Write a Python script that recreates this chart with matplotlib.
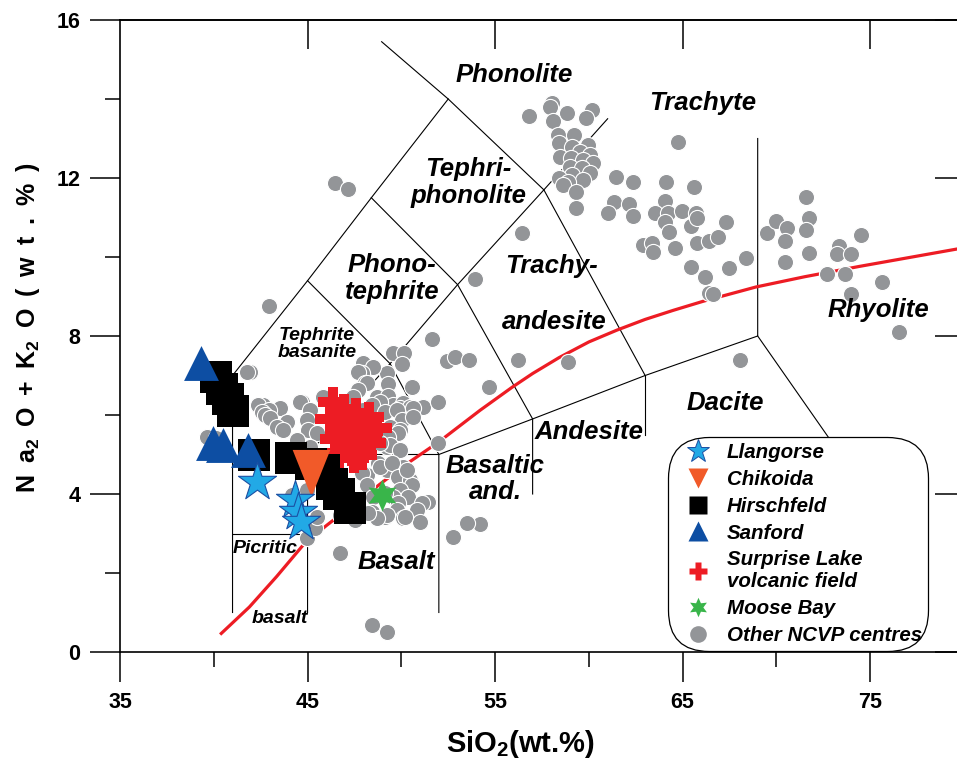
import matplotlib
matplotlib.use('Agg')
from matplotlib import pyplot as plt
from matplotlib.lines import Line2D
from matplotlib.font_manager import FontProperties

plt.rcParams['font.family'] = ['Liberation Sans', 'DejaVu Sans']
plt.rcParams['font.weight'] = 'bold'
plt.rcParams['mathtext.fontset'] = 'custom'
plt.rcParams['mathtext.rm'] = 'Liberation Sans:bold'
plt.rcParams['mathtext.bf'] = 'Liberation Sans:bold'
plt.rcParams['mathtext.it'] = 'Liberation Sans:bold:italic'
plt.rcParams['mathtext.default'] = 'bf'

# ---- data (SiO2 wt.%, Na2O+K2O wt.%) ----
other_sio2 = [
    # trachyte cluster
    56.79, 58.02, 57.91, 58.81, 58.07, 60.15, 59.83, 58.34, 59.19, 58.39, 59.08, 59.93, 59.51, 60.04,
    58.44, 59.03, 59.67, 60.20, 58.97, 59.61, 60.04, 59.08, 58.39, 59.67, 58.87, 58.60, 59.29, 59.29,
    # trachyte / trachydacite
    56.42, 64.73, 61.43, 62.33, 64.09, 65.63, 61.32, 62.12, 61.00, 62.33, 64.04, 63.50, 64.20, 64.99,
    65.69, 64.04, 64.25, 65.42, 65.79, 67.29, 62.86, 63.34, 63.40, 64.57, 65.74, 66.43, 66.91, 65.42,
    66.17, 67.45, 68.40, 66.43, 66.60,
    # rhyolite
    69.47, 70.00, 70.54, 70.48, 70.48, 71.60, 71.71, 71.60, 71.76, 73.31, 73.25, 74.00, 74.53, 72.67,
    73.68, 75.65, 74.00, 76.56, 68.08,
    # scattered
    46.45, 47.15, 42.94, 53.91, 51.62, 52.42, 52.85, 53.59, 56.20, 58.87, 54.66, 54.18, 53.49, 52.74,
    46.72, 48.43, 49.22,
    # basanite / basalt cluster
    49.54, 50.13, 50.02, 49.22, 47.95, 48.48, 47.89, 47.68, 48.05, 48.16, 47.68, 49.28, 50.56, 48.69,
    49.28, 47.41, 49.54, 50.08, 48.85, 48.43, 51.14, 51.94, 49.92, 50.45, 49.12, 49.76, 50.61, 50.02,
    50.61, 47.95, 49.38, 49.92, 49.54, 49.81, 49.28, 49.22, 49.38, 48.85, 49.92, 51.94, 50.08, 49.22,
    48.16, 47.89, 48.75, 48.85, 49.49, 49.81, 50.45, 50.56, 48.16, 49.92, 50.34, 49.54, 49.12, 48.48,
    51.41, 51.09, 49.81, 50.82, 49.76, 50.08, 49.12, 49.22, 48.43, 48.69, 48.21, 47.52, 46.72, 46.83,
    50.98, 50.29, 50.18,
    # left cluster
    44.70, 42.62, 43.52, 41.93, 41.77, 45.82, 44.59, 42.35, 42.94, 42.56, 42.72, 42.99, 45.12, 44.96,
    43.90, 43.36, 43.68, 45.02, 46.29, 45.50, 45.12, 44.43, 39.64, 40.10, 44.96, 45.39, 45.50, 44.16,
    44.96,
]
other_alk = [
    13.57, 13.90, 13.80, 13.65, 13.44, 13.72, 13.52, 13.09, 13.09, 12.89, 12.78, 12.84, 12.66, 12.58,
    12.53, 12.51, 12.46, 12.38, 12.28, 12.25, 12.13, 12.08, 12.00, 11.95, 11.90, 11.82, 11.65, 11.24,
    10.61, 12.91, 12.03, 11.90, 11.90, 11.77, 11.39, 11.34, 11.11, 11.04, 11.42, 11.11, 11.11, 11.16,
    11.11, 10.89, 10.63, 10.78, 10.99, 10.89, 10.30, 10.35, 10.13, 10.23, 10.35, 10.41, 10.51, 9.75,
    9.49, 9.72, 9.97, 9.09, 9.06,
    10.61, 10.91, 10.73, 10.41, 9.87, 11.52, 10.99, 10.68, 10.10, 10.28, 10.08, 10.08, 10.56, 9.57,
    9.57, 9.37, 9.06, 8.10, 7.39,
    11.87, 11.72, 8.76, 9.44, 7.92, 7.37, 7.47, 7.39, 7.39, 7.34, 6.71, 3.24, 3.27, 2.91,
    2.51, 0.68, 0.51,
    7.57, 7.57, 7.29, 7.06, 7.32, 7.22, 7.06, 7.09, 6.81, 6.81, 6.63, 6.78, 6.71, 6.46,
    6.48, 6.46, 6.25, 6.30, 6.33, 6.25, 6.20, 6.33, 6.18, 6.20, 6.08, 6.13, 6.18, 5.87,
    5.95, 6.13, 5.70, 5.62, 5.37, 5.54, 5.44, 5.19, 5.24, 5.29, 5.11, 5.29, 4.68, 4.61,
    4.48, 4.53, 4.78, 4.68, 4.78, 4.43, 4.35, 4.23, 4.23, 4.10, 3.92, 3.92, 4.03, 3.92,
    3.80, 3.77, 3.77, 3.59, 3.59, 3.39, 3.42, 3.47, 3.54, 3.39, 3.52, 3.34, 3.47, 3.59,
    3.29, 4.61, 3.42,
    6.33, 6.25, 6.18, 7.09, 7.09, 6.46, 6.33, 6.25, 6.13, 6.08, 6.00, 5.92, 6.13, 5.87,
    5.82, 5.70, 5.62, 5.62, 5.75, 5.54, 5.19, 5.37, 5.44, 5.42, 2.89, 3.14, 3.42, 3.97,
    4.10,
]

surprise_sio2 = [46.35, 46.95, 47.6, 48.25, 46.2, 46.9, 47.55, 48.7, 48.2, 46.45, 47.1, 47.8, 46.7, 47.35, 47.9, 47.5, 48.4]
surprise_alk = [6.33, 6.15, 6.05, 5.95, 5.9, 5.85, 5.75, 5.67, 5.6, 5.4, 5.45, 5.35, 5.05, 5.1, 5.0, 4.9, 5.3]

hirsch_sio2 = [40.1, 40.45, 40.75, 41.05, 42.15, 44.1, 45.2, 45.9, 46.3, 46.7, 47.25]
hirsch_alk = [6.95, 6.65, 6.4, 6.1, 5.0, 4.9, 4.75, 4.6, 4.25, 4.0, 3.65]

sanford_sio2 = [39.32, 39.96, 40.49, 41.82]
sanford_alk = [7.32, 5.29, 5.24, 5.11]

chikoida_sio2 = [45.18]
chikoida_alk = [4.53]

llangorse_sio2 = [42.3, 44.32, 44.48, 44.64]
llangorse_alk = [4.30, 3.85, 3.54, 3.29]

moose_sio2 = [48.96]
moose_alk = [3.97]

# Irvine & Baragar alkaline / subalkaline divide
curve_sio2 = [40.4, 41.9, 43.35, 44.77, 46.0, 47.5, 49.0, 50.34, 52.0, 53.1, 54.2, 55.9, 57.0, 58.4, 60.0,
              61.5, 63.0, 64.5, 66.1, 68.9, 71.5, 74.4, 77.0, 79.6]
curve_alk = [0.47, 1.14, 1.91, 2.71, 3.2, 3.75, 4.3, 4.78, 5.32, 5.72, 6.12, 6.7, 7.05, 7.45, 7.85,
             8.15, 8.42, 8.65, 8.88, 9.24, 9.5, 9.76, 9.98, 10.2]

# TAS field boundaries
tas_lines = [
    [(48.95, 15.45), (52.5, 14), (57.6, 11.7), (63, 7)],
    [(57.6, 11.7), (61, 13.5)],
    [(52.5, 14), (48.4, 11.5), (45, 9.4), (41, 7), (41, 1)],
    [(48.4, 11.5), (53, 9.3), (57, 5.9), (57, 4)],
    [(45, 9.4), (49.4, 7.3), (52, 5), (52, 1)],
    [(45, 5), (49.4, 7.3), (53, 9.3), (57.6, 11.7)],
    [(45, 1), (45, 5), (52, 5), (57, 5.9), (63, 7), (69, 8), (69, 13)],
    [(63, 7), (63, 5.5)],
    [(69, 8), (72.75, 5.45)],
    [(41, 3), (45, 3)],
]

field_names = ['Phonolite', 'Trachyte', 'Tephri-\nphonolite', 'Phono-\ntephrite', 'Trachy-', 'andesite',
               'Rhyolite', 'Dacite', 'Andesite', 'Basaltic\nand.', 'Basalt']
field_x = [56.0, 66.05, 53.6, 49.5, 58.0, 58.15, 75.45, 67.25, 60.0, 55.0, 49.75]
field_y = [14.6, 13.9, 11.88, 9.45, 9.77, 8.35, 8.66, 6.3, 5.57, 4.38, 2.28]
small_names = ['Tephrite\nbasanite', 'Picritic', 'basalt']
small_x = [45.5, 42.75, 43.5]
small_y = [7.8, 2.63, 0.84]

fig = plt.figure(figsize=(9.57, 7.63), dpi=100)
ax = fig.add_axes([120 / 957, 111 / 763, 844 / 957, 632 / 763])
ax.set_xlim(35, 80)
ax.set_ylim(0, 16)

for seg in tas_lines:
    ax.plot([p[0] for p in seg], [p[1] for p in seg], color='black', lw=0.8, zorder=1)
ax.plot(curve_sio2, curve_alk, color='#ed1c24', lw=2.3, zorder=2)

ax.scatter(other_sio2, other_alk, s=135, c='#939598', edgecolors='white', linewidths=0.8, zorder=3)
ax.scatter(surprise_sio2, surprise_alk, s=470, marker='P', c='#ed1c24', linewidths=0, zorder=4)
ax.scatter(hirsch_sio2, hirsch_alk, s=500, marker='s', c='black', linewidths=0, zorder=5)
ax.scatter(sanford_sio2, sanford_alk, s=630, marker='^', c='#0d4ea3', linewidths=0, zorder=6)
ax.scatter(chikoida_sio2, chikoida_alk, s=1150, marker=[(-0.8, 1), (0.8, 1), (0, -1)], c='#f15a29',
           linewidths=0, zorder=7)
ax.scatter(llangorse_sio2, llangorse_alk, s=830, marker='*', c='#22a9e6', edgecolors='#1b4fa3',
           linewidths=0.8, zorder=8)
ax.scatter(moose_sio2, moose_alk, s=530, marker=(6, 1, 0), c='#39b54a', linewidths=0, zorder=8)

for name, x, y in zip(field_names, field_x, field_y):
    ax.text(x, y, name, fontsize=18.5, style='italic', ha='center', va='center', linespacing=1.15, zorder=9)
for name, x, y in zip(small_names, small_x, small_y):
    ax.text(x, y, name, fontsize=14, style='italic', ha='center', va='center', linespacing=1.0, zorder=9)

# axes and ticks
for sp in ax.spines.values():
    sp.set_linewidth(1.2)
ax.spines['right'].set_visible(False)
ax.set_xticks([35, 45, 55, 65, 75, 80])
ax.set_xticklabels(['35', '45', '55', '65', '75', ''])
ax.set_xticks([40, 50, 60, 70], minor=True)
ax.set_yticks([0, 4, 8, 12, 16])
ax.set_yticks([2, 6, 10, 14], minor=True)
ax.tick_params(which='major', direction='out', length=21.5, width=1.1, pad=7, labelsize=15.5)
ax.tick_params(which='minor', direction='out', length=11, width=1.1)

secx = ax.secondary_xaxis('top')
secx.set_xticks([45, 55, 65, 75])
secx.tick_params(direction='in', length=21, width=1.1, labeltop=False)
secx.spines['top'].set_linewidth(1.2)
secy = ax.secondary_yaxis('right')
secy.set_yticks([0, 4, 8, 12, 16])
secy.tick_params(direction='in', length=21, width=1.1, labelright=False)

sp = ' \u2009'
ylab = sp.join(['N', 'a$_2$', 'O', '+', 'K$_2$', 'O', '(', 'w', 't', '.', '%', ')'])
fig.text(28 / 957, 1 - 328 / 763, ylab, rotation=90, ha='center', va='center', fontsize=18)
fig.text(520 / 957, 1 - 744 / 763, r'SiO$_2$(wt.%)', ha='center', va='center', fontsize=21)

# legend
handles = [
    Line2D([], [], ls='none', marker='*', ms=17, mfc='#22a9e6', mec='#1b4fa3', mew=0.7),
    Line2D([], [], ls='none', marker='v', ms=14, mfc='#f15a29', mec='none'),
    Line2D([], [], ls='none', marker='s', ms=13, mfc='black', mec='none'),
    Line2D([], [], ls='none', marker='^', ms=14, mfc='#0d4ea3', mec='none'),
    Line2D([], [], ls='none', marker='P', ms=13, mfc='#ed1c24', mec='none'),
    Line2D([], [], ls='none', marker=(6, 1, 0), ms=14, mfc='#39b54a', mec='none'),
    Line2D([], [], ls='none', marker='o', ms=12, mfc='#939598', mec='none'),
]
labels = ['Llangorse', 'Chikoida', 'Hirschfeld', 'Sanford', 'Surprise Lake\nvolcanic field', 'Moose Bay',
          'Other NCVP centres']
leg = ax.legend(handles, labels, loc='upper left', bbox_to_anchor=(0.6493, 0.3402), borderaxespad=0,
                prop=FontProperties(family='Liberation Sans', weight='bold', style='italic', size=14.8),
                handlelength=2.3, handletextpad=0.25, labelspacing=0.38, borderpad=0.3,
                frameon=True, fancybox=True, framealpha=1, facecolor='white', edgecolor='black')
leg.get_frame().set_linewidth(0.9)
leg.get_frame().set_boxstyle('round', pad=0, rounding_size=2.0)
leg.set_zorder(10)

fig.savefig('out.png', dpi=100)
